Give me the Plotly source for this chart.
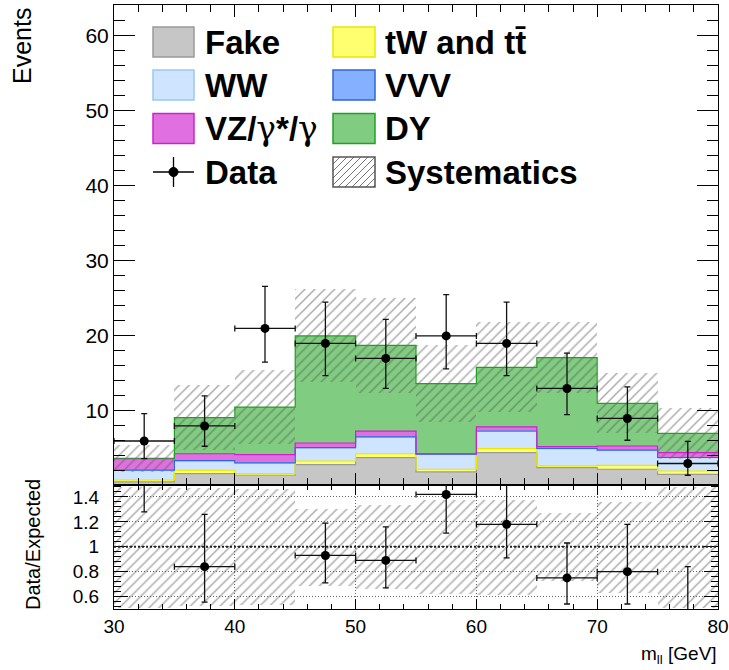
import numpy as np
import plotly.graph_objects as go

# ---------------- data ----------------
edges = [30, 35, 40, 45, 50, 55, 60, 65, 70, 75, 80]
centers = [32.5, 37.5, 42.5, 47.5, 52.5, 57.5, 62.5, 67.5, 72.5, 77.5]

fake = [0.55, 1.65, 1.43, 2.85, 3.78, 1.87, 4.45, 2.45, 2.23, 1.56]
ttw = [0.25, 0.45, 0.22, 0.48, 0.52, 0.36, 0.53, 0.22, 0.53, 0.44]
ww = [1.30, 1.25, 1.42, 1.74, 2.23, 2.00, 2.32, 2.31, 2.00, 1.78]
vvv = [0.02, 0.03, 0.02, 0.04, 0.03, 0.02, 0.03, 0.02, 0.03, 0.02]
vz = [1.53, 0.92, 1.09, 0.62, 0.74, 0.05, 0.54, 0.25, 0.54, 0.65]
dy = [0.05, 4.80, 6.32, 14.27, 11.45, 9.35, 7.93, 11.85, 5.67, 2.55]
syst = [1.8, 4.3, 4.9, 6.2, 6.35, 5.15, 6.0, 4.7, 4.0, 3.4]

data = [6, 8, 21, 19, 17, 20, 19, 13, 9, 3]
data_up = [3.65, 4.0, 5.6, 5.5, 5.2, 5.5, 5.5, 4.7, 4.2, 2.96]
data_dn = [2.35, 2.7, 4.5, 4.3, 4.0, 4.4, 4.3, 3.5, 2.9, 1.57]

ratio = [1.64, 0.84, 2.00, 0.93, 0.89, 1.42, 1.18, 0.75, 0.80, 0.43]
ratio_up = [0.97, 0.42, 0.53, 0.26, 0.27, 0.45, 0.37, 0.28, 0.38, 0.41]
ratio_dn = [0.36, 0.285, 0.43, 0.22, 0.22, 0.31, 0.27, 0.21, 0.26, 0.23]

GAMMA = "<span style='font-family:DejaVu Serif;font-weight:normal'>γ</span>"
components = [
    ("Fake", fake, "#c6c6c6", "#9a9a9a"),
    ("tW and tt̄", ttw, "#ffff70", "#e8e800"),
    ("WW", ww, "#cfe5ff", "#9cc8f0"),
    ("VVV", vvv, "#85b0ff", "#2f66d8"),
    ("VZ/" + GAMMA + "*/" + GAMMA, vz, "#e070e0", "#cc22cc"),
    ("DY", dy, "#80cc80", "#22a022"),
]

FONT = "Liberation Sans, Arial, Helvetica, sans-serif"
HATCH = "#5a5a5a"

fig = go.Figure()

# ---------------- stack ----------------
cum = np.zeros(len(centers))
levels = []
for name, vals, fill, line in components:
    v = np.array(vals, dtype=float)
    fig.add_trace(go.Bar(x=centers, y=v, base=cum.copy(), width=5,
                         marker=dict(color=fill, line=dict(width=0)),
                         xaxis="x", yaxis="y", showlegend=False))
    cum = cum + v
    levels.append((cum.copy(), line))
total = cum.copy()

hatch = dict(shape="/", fgcolor=HATCH, bgcolor="rgba(0,0,0,0)", size=7, solidity=0.22, fillmode="overlay")

# systematics band (main)
s = np.array(syst)
fig.add_trace(go.Bar(x=centers, y=2 * s, base=total - s, width=5,
                     marker=dict(color="rgba(0,0,0,0)", line=dict(width=0), pattern=hatch),
                     xaxis="x", yaxis="y", showlegend=False, name="Systematics"))

# step outlines
for lev, line in levels:
    fig.add_trace(go.Scatter(x=edges, y=list(lev) + [lev[-1]], mode="lines",
                             line=dict(shape="hv", color=line, width=1.2),
                             xaxis="x", yaxis="y", showlegend=False, hoverinfo="skip"))

# data
fig.add_trace(go.Scatter(x=centers, y=data, mode="markers",
                         marker=dict(color="black", size=9),
                         error_y=dict(type="data", array=data_up, arrayminus=data_dn,
                                      color="#111", thickness=1.3, width=3),
                         error_x=dict(type="constant", value=2.5, color="#111", thickness=1.3, width=3),
                         xaxis="x", yaxis="y", showlegend=False, name="Data"))

# ---------------- ratio ----------------
rs = s / total
fig.add_trace(go.Bar(x=centers, y=2 * rs, base=1 - rs, width=5,
                     marker=dict(color="rgba(0,0,0,0)", line=dict(width=0), pattern=hatch),
                     xaxis="x2", yaxis="y2", showlegend=False))
fig.add_trace(go.Scatter(x=centers, y=ratio, mode="markers",
                         marker=dict(color="black", size=9),
                         error_y=dict(type="data", array=ratio_up, arrayminus=ratio_dn,
                                      color="#111", thickness=1.3, width=3),
                         error_x=dict(type="constant", value=2.5, color="#111", thickness=1.3, width=3),
                         xaxis="x2", yaxis="y2", showlegend=False))

# ---------------- layout ----------------
L, R, T, B = 114, 11, 5, 61
W, H = 729, 670
PW, PH = W - L - R, H - T - B
split = (609 - 484.5) / PH


def px(x):
    return (x - L) / PW


def py(y):
    return (H - B - y) / PH


axis_common = dict(showline=True, linecolor="black", linewidth=1, mirror="ticks",
                   ticks="inside", tickcolor="black", zeroline=False, automargin=False,
                   tickfont=dict(family=FONT, size=19, color="black"))

fig.update_layout(
    width=W, height=H,
    margin=dict(l=L, r=R, t=T, b=B, autoexpand=False),
    paper_bgcolor="white", plot_bgcolor="white",
    barmode="overlay", bargap=0,
    showlegend=False,
    xaxis=dict(domain=[0, 1], anchor="y", range=[30, 80], dtick=10, tick0=0,
               ticklen=12, showticklabels=False, showgrid=False,
               minor=dict(dtick=2, ticklen=7, ticks="inside", tickcolor="black"),
               **axis_common),
    yaxis=dict(domain=[split, 1], anchor="x", range=[0.2, 64.1], dtick=10, tick0=0,
               ticklen=21, showgrid=False,
               minor=dict(dtick=2, ticklen=11, ticks="inside", tickcolor="black"),
               **{**axis_common, "tickfont": dict(family=FONT, size=21, color="black")}),
    xaxis2=dict(domain=[0, 1], anchor="y2", range=[30, 80], dtick=10, tick0=0,
                ticklen=10, showgrid=True, gridcolor="#666", griddash="1px,2px", gridwidth=1,
                minor=dict(dtick=2, ticklen=5, ticks="inside", tickcolor="black"),
                **axis_common),
    yaxis2=dict(domain=[0, split], anchor="x2", range=[0.5, 1.5], dtick=0.2, tick0=0,
                ticklen=14, showgrid=True, gridcolor="#666", griddash="1px,2px", gridwidth=1,
                ticklabelstandoff=10,
                minor=dict(dtick=0.04, ticklen=7, ticks="inside", tickcolor="black"),
                **axis_common),
)

shapes = []
annotations = []

# unity line in ratio panel
shapes.append(dict(type="line", xref="x2", yref="y2", x0=30, x1=80, y0=1, y1=1,
                   line=dict(color="#222", width=2, dash="2px,2px"), layer="above"))

# axis titles
annotations.append(dict(text="Events", xref="paper", yref="paper", x=px(22), y=py(46),
                        textangle=-90, showarrow=False, xanchor="center", yanchor="middle",
                        font=dict(family=FONT, size=25, color="black")))
annotations.append(dict(text="Data/Expected", xref="paper", yref="paper", x=px(33), y=py(545),
                        textangle=-90, showarrow=False, xanchor="center", yanchor="middle",
                        font=dict(family=FONT, size=20, color="black")))
annotations.append(dict(text="m<sub>ll</sub> [GeV]", xref="paper", yref="paper", x=px(719), y=py(655),
                        showarrow=False, xanchor="right", yanchor="middle",
                        font=dict(family=FONT, size=19, color="black")))

# ---------------- custom legend ----------------
row_y = [42, 85, 128.5, 172]
col_box = [(153, 194), (333, 375)]
col_text = [203, 383]
legend_items = [
    (0, 0, components[0]), (1, 0, components[1]),
    (0, 1, components[2]), (1, 1, components[3]),
    (0, 2, components[4]), (1, 2, components[5]),
]
for col, row, (name, _, fill, line) in legend_items:
    x0, x1 = col_box[col]
    yc = row_y[row]
    shapes.append(dict(type="rect", xref="paper", yref="paper",
                       x0=px(x0), x1=px(x1), y0=py(yc + 15), y1=py(yc - 15),
                       fillcolor=fill, line=dict(color=line, width=1.5), layer="above"))
    annotations.append(dict(text="<b>%s</b>" % name, xref="paper", yref="paper",
                            x=px(col_text[col]), y=py(yc), xanchor="left", yanchor="middle",
                            showarrow=False, font=dict(family=FONT, size=33, color="black")))

# Data legend entry
yc = row_y[3]
xc = (col_box[0][0] + col_box[0][1]) / 2
shapes.append(dict(type="line", xref="paper", yref="paper", x0=px(col_box[0][0]), x1=px(col_box[0][1]),
                   y0=py(yc), y1=py(yc), line=dict(color="black", width=1.3), layer="above"))
shapes.append(dict(type="line", xref="paper", yref="paper", x0=px(xc), x1=px(xc),
                   y0=py(yc - 15), y1=py(yc + 15), line=dict(color="black", width=1.3), layer="above"))
shapes.append(dict(type="circle", xref="paper", yref="paper", x0=px(xc - 4.5), x1=px(xc + 4.5),
                   y0=py(yc + 4.5), y1=py(yc - 4.5), fillcolor="black", line=dict(color="black", width=1),
                   layer="above"))
annotations.append(dict(text="<b>Data</b>", xref="paper", yref="paper", x=px(col_text[0]), y=py(yc),
                        xanchor="left", yanchor="middle", showarrow=False,
                        font=dict(family=FONT, size=33, color="black")))

# Systematics legend entry (hatched box)
bx0, bx1 = col_box[1]
by_top, by_bot = yc - 15, yc + 15
bw, bh = bx1 - bx0, by_bot - by_top
c = -bh
while c < bw:
    u0 = max(0, c)
    u1 = min(bw, c + bh)
    if u1 > u0:
        shapes.append(dict(type="line", xref="paper", yref="paper",
                           x0=px(bx0 + u0), y0=py(by_bot - (u0 - c)),
                           x1=px(bx0 + u1), y1=py(by_bot - (u1 - c)),
                           line=dict(color="#777", width=1), layer="above"))
    c += 7
shapes.append(dict(type="rect", xref="paper", yref="paper",
                   x0=px(bx0), x1=px(bx1), y0=py(by_bot), y1=py(by_top),
                   fillcolor="rgba(0,0,0,0)", line=dict(color="#555", width=1.5), layer="above"))
annotations.append(dict(text="<b>Systematics</b>", xref="paper", yref="paper", x=px(col_text[1]), y=py(yc),
                        xanchor="left", yanchor="middle", showarrow=False,
                        font=dict(family=FONT, size=33, color="black")))

fig.update_layout(shapes=shapes, annotations=annotations)

fig.write_html("out.html",
               config={"displayModeBar": False},
               post_script="document.body.style.margin='0';document.body.style.padding='0';"
                           "document.body.style.overflow='hidden';")
